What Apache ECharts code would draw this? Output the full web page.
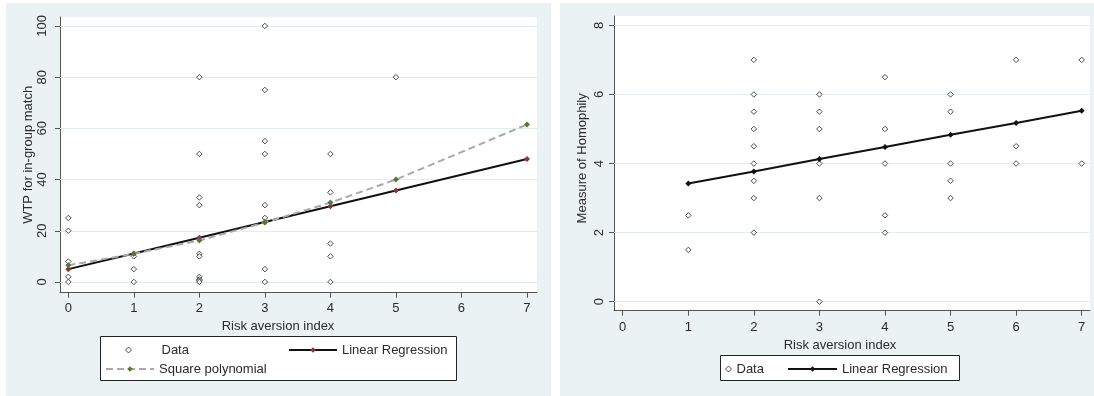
<!DOCTYPE html>
<html>
<head>
<meta charset="utf-8">
<script src="https://cdn.jsdelivr.net/npm/echarts@6/dist/echarts.min.js"></script>
<style>html,body{margin:0;padding:0;background:#fff;}#c{width:1094px;height:396px;}</style>
</head>
<body>
<div id="c"></div>
<script>
// ---- data ----
const xTicks = [0, 1, 2, 3, 4, 5, 6, 7];
const wtpTicks = [0, 20, 40, 60, 80, 100];
const homTicks = [0, 2, 4, 6, 8];

const wtpData = [
  [0, 25], [0, 20], [0, 8], [0, 2], [0, 0],
  [1, 10], [1, 5], [1, 0],
  [2, 80], [2, 50], [2, 33], [2, 30], [2, 11], [2, 10], [2, 2], [2, 1], [2, 0.5], [2, 0],
  [3, 100], [3, 75], [3, 55], [3, 50], [3, 30], [3, 25], [3, 5], [3, 0],
  [4, 50], [4, 35], [4, 15], [4, 10], [4, 0],
  [5, 80]
];
const fitX = [0, 1, 2, 3, 4, 5, 7];
const wtpLinear = [5.0, 11.1, 17.3, 23.4, 29.6, 35.7, 48.0];
const wtpSquare = [6.5, 11.0, 16.2, 23.2, 31.0, 40.0, 61.5];

const homData = [
  [1, 2.5], [1, 1.5],
  [2, 7], [2, 6], [2, 5.5], [2, 5], [2, 4.5], [2, 4], [2, 3.5], [2, 3], [2, 2],
  [3, 6], [3, 5.5], [3, 5], [3, 4], [3, 3], [3, 0],
  [4, 6.5], [4, 5], [4, 4], [4, 2.5], [4, 2],
  [5, 6], [5, 5.5], [5, 4], [5, 3.5], [5, 3],
  [6, 7], [6, 4.5], [6, 4],
  [7, 7], [7, 4]
];
const homX = [1, 2, 3, 4, 5, 6, 7];
const homLinear = [3.42, 3.77, 4.13, 4.48, 4.83, 5.17, 5.53];

// ---- styling ----
const FONT = "'Liberation Sans', Arial, sans-serif";
const TXT = '#2b2b2b';
const PANEL = '#EAF2F3';
const AXIS = '#555';
const RED = '#8E3340';
const GREEN = '#557A2E';

const pair = (xs, ys) => xs.map((x, i) => [x, ys[i]]);

function xAxisOpt(grid, min, max, margin, gap, padRight) {
  return {
    type: 'value', gridIndex: grid, min: min, max: max,
    axisLine: { show: true, onZero: false, lineStyle: { color: AXIS, width: 1 } },
    axisTick: { show: true, length: 5, customValues: xTicks, lineStyle: { color: AXIS } },
    axisLabel: { customValues: xTicks, margin: margin, fontFamily: FONT, fontSize: 13, color: TXT },
    splitLine: { show: false },
    name: 'Risk aversion index', nameLocation: 'middle', nameGap: gap,
    nameTextStyle: { fontFamily: FONT, fontSize: 13, color: TXT, padding: [0, padRight, 0, 0] }
  };
}
function yAxisOpt(grid, min, max, ticks, margin, name, gap, pad) {
  return {
    type: 'value', gridIndex: grid, min: min, max: max,
    axisLine: { show: true, onZero: false, lineStyle: { color: AXIS, width: 1 } },
    axisTick: { show: true, length: 5, customValues: ticks, lineStyle: { color: AXIS } },
    axisLabel: { customValues: ticks, rotate: 90, margin: margin, fontFamily: FONT, fontSize: 13, color: TXT },
    splitLine: { show: false },
    name: name, nameLocation: 'middle', nameGap: gap,
    nameTextStyle: { fontFamily: FONT, fontSize: 13, color: TXT, padding: pad }
  };
}
function gridLines(ticks) {
  return {
    silent: true, symbol: 'none', z: 1, animation: false,
    label: { show: false },
    lineStyle: { color: '#E3EDEF', type: 'solid', width: 1 },
    emphasis: { disabled: true },
    data: ticks.map(v => ({ yAxis: v }))
  };
}
const dataStyle = { color: '#fff', borderColor: '#222', borderWidth: 1 };
const legendText = { fontFamily: FONT, fontSize: 13, color: TXT };

const option = {
  backgroundColor: '#fff',
  animation: false,
  graphic: [
    { type: 'rect', z: -1, silent: true, shape: { x: 6, y: 3, width: 545, height: 393 }, style: { fill: PANEL } },
    { type: 'rect', z: -1, silent: true, shape: { x: 560, y: 3, width: 534, height: 393 }, style: { fill: PANEL } },
    { type: 'rect', z: 2, silent: true, shape: { x: 100.5, y: 336.5, width: 356, height: 44 }, style: { fill: '#fff', stroke: '#222', lineWidth: 1 } },
    { type: 'rect', z: 2, silent: true, shape: { x: 720.5, y: 355.5, width: 239, height: 25 }, style: { fill: '#fff', stroke: '#222', lineWidth: 1 } }
  ],
  grid: [
    { left: 60, top: 17, width: 477, height: 275.7, show: true, backgroundColor: '#fff', borderWidth: 0, z: 0 },
    { left: 614, top: 16, width: 476, height: 294.7, show: true, backgroundColor: '#fff', borderWidth: 0, z: 0 }
  ],
  xAxis: [
    xAxisOpt(0, -0.127, 7.153, 9, 22, 41),
    xAxisOpt(1, -0.133, 7.127, 10, 22, 24)
  ],
  yAxis: [
    yAxisOpt(0, -4.2, 103.5, wtpTicks, 11, 'WTP for in-group match', 24, [0, 0, 0, 0]),
    yAxisOpt(1, -0.26, 8.27, homTicks, 8.5, 'Measure of Homophily', 25, [0, 0, 0, 10])
  ],
  legend: [
    { data: ['Data'], left: 125, top: 343.5, padding: 0, itemWidth: 6, itemHeight: 6, symbolKeepAspect: true,
      itemStyle: { borderWidth: 1, borderColor: '#222' },
      textStyle: Object.assign({ padding: [0, 0, 0, 25] }, legendText), z: 5 },
    { data: ['Linear Regression'], left: 288, top: 343.5, padding: 0, itemWidth: 48, itemHeight: 7,
      textStyle: legendText, z: 5 },
    { data: ['Square polynomial'], left: 105, top: 362.5, padding: 0, itemWidth: 48, itemHeight: 7,
      textStyle: legendText, z: 5 },
    { data: ['Data'], left: 725, top: 362.5, padding: 0, itemWidth: 6, itemHeight: 6, symbolKeepAspect: true,
      itemStyle: { borderWidth: 1, borderColor: '#222' },
      textStyle: legendText, z: 5 },
    { data: [{ name: 'Linear Regression', itemStyle: { color: '#111' } }], left: 787, top: 362.5, padding: 0, itemWidth: 49, itemHeight: 7,
      textStyle: legendText, z: 5 }
  ],
  series: [
    { name: 'Data', type: 'scatter', xAxisIndex: 0, yAxisIndex: 0, z: 2,
      symbol: 'diamond', symbolSize: 5.5, itemStyle: dataStyle, data: wtpData,
      markLine: gridLines(wtpTicks) },
    { name: 'Linear Regression', type: 'line', xAxisIndex: 0, yAxisIndex: 0, z: 3,
      symbol: 'diamond', symbolSize: 6, showSymbol: true,
      lineStyle: { color: '#111', width: 2 }, itemStyle: { color: RED },
      data: pair(fitX, wtpLinear) },
    { name: 'Square polynomial', type: 'line', xAxisIndex: 0, yAxisIndex: 0, z: 4,
      symbol: 'diamond', symbolSize: 6, showSymbol: true,
      lineStyle: { color: '#A9A9A9', width: 2, type: [7, 4] }, itemStyle: { color: GREEN },
      data: pair(fitX, wtpSquare) },
    { name: 'Data', type: 'scatter', xAxisIndex: 1, yAxisIndex: 1, z: 2,
      symbol: 'diamond', symbolSize: 5.5, itemStyle: dataStyle, data: homData,
      markLine: gridLines(homTicks) },
    { name: 'Linear Regression', type: 'line', xAxisIndex: 1, yAxisIndex: 1, z: 3,
      symbol: 'diamond', symbolSize: 6, showSymbol: true,
      lineStyle: { color: '#111', width: 2 }, itemStyle: { color: '#111' },
      data: pair(homX, homLinear) }
  ]
};
const chart = echarts.init(document.getElementById('c'));
chart.setOption(option);
</script>
</body>
</html>
